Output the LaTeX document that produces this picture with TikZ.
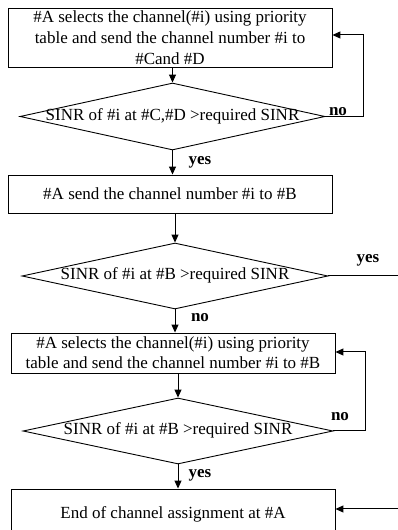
\documentclass[tikz,border=0pt]{standalone}
\usepackage{fontspec}
\setmainfont{Liberation Serif}
\usepackage{tikz}
\usetikzlibrary{arrows.meta,positioning,calc,shapes.geometric}

\tikzset{
  stepbox/.style={draw, rectangle, line width=0.9pt, minimum width=324pt, align=center, inner sep=0pt},
  testbox/.style={draw, diamond, line width=0.9pt, inner sep=0pt, aspect=4.6, text height=9pt, text depth=1pt},
  arr/.style={line width=1pt, -{Triangle[length=8pt,width=7pt]}},
  lbl/.style={font=\fontsize{17}{20}\selectfont\bfseries}
}

\begin{document}
\begin{tikzpicture}[x=1pt, y=1pt, font=\fontsize{17}{20}\selectfont]
    \useasboundingbox (0,0) rectangle (398,530);
    % First selection (for #C and #D)
    \node[stepbox, minimum height=59pt, font=\fontsize{17}{21}\selectfont] (box1) at (170,492.5)
      {\#A selects the channel(\#i) using priority\\ table and send the channel number \#i to\\ \#Cand \#D};
    \node[testbox, minimum width=305pt, minimum height=67pt] (dia1) at (172.5,413.5)
      {SINR of \#i at \#C,\#D >required SINR};
    % Send to #B
    \node[stepbox, minimum height=38pt] (box2) at (170,336)
      {\#A send the channel number \#i to \#B};
    \node[testbox, minimum width=306pt, minimum height=66pt] (dia2) at (175,254)
      {SINR of \#i at \#B >required SINR};
    % Second selection (for #B)
    \node[stepbox, minimum height=40pt] (box3) at (173,177)
      {\#A selects the channel(\#i) using priority\\ table and send the channel number \#i to \#B};
    \node[testbox, minimum width=310pt, minimum height=66pt] (dia3) at (178,99)
      {SINR of \#i at \#B >required SINR};
    % End
    \node[stepbox, minimum height=50pt] (box4) at (173,16)
      {\raisebox{2pt}{End of channel assignment at \#A}};
    % loop points at the right side
    \coordinate (loop1) at (363,495);
    \coordinate (loop3) at (365,178);
    \coordinate (edge1) at (398,254);
    \coordinate (edge2) at (398,21);
    % Connectors
    \draw[arr] (box1.south -| dia1.north) -- (dia1.north);
    \draw[arr] (dia1.south) -- (dia1.south |- box2.north);
    \draw[arr] (box2.south -| dia2.north) -- (dia2.north);
    \draw[arr] (dia2.south) -- (dia2.south |- box3.north);
    \draw[arr] (box3.south -| dia3.north) -- (dia3.north);
    \draw[arr] (dia3.south) -- (dia3.south |- box4.north);
    \draw[arr] (dia1.east) -| (loop1) -- (loop1 -| box1.east);
    \draw[arr] (dia3.east) -| (loop3) -- (loop3 -| box3.east);
    \draw[line width=1pt] (dia2.east) -- (edge1);
    \draw[arr] (edge2) -- (edge2 -| box4.east);
    % Labels
    \node[lbl] (no1) at (338,418) {no};
    \node[lbl] (yes1) at (200,368) {yes};
    \node[lbl] (yes2) at (368,270) {yes};
    \node[lbl] (no2) at (200,212) {no};
    \node[lbl] (no3) at (340,113) {no};
    \node[lbl] (yes3) at (200,55) {yes};
\end{tikzpicture}
\end{document}
